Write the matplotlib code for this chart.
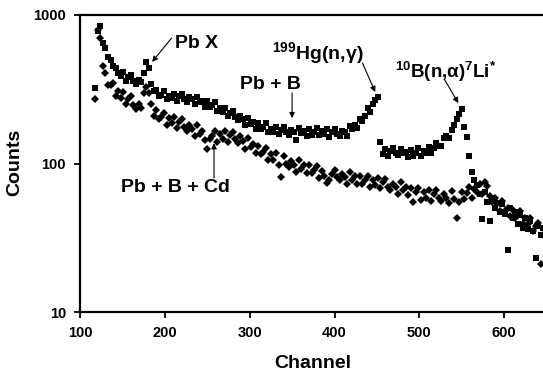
import numpy as np
import matplotlib
matplotlib.use("Agg")
import matplotlib.pyplot as plt

plt.rcParams['font.family'] = ['Liberation Sans', 'DejaVu Sans']
plt.rcParams['font.weight'] = 'bold'
plt.rcParams['mathtext.fontset'] = 'custom'
plt.rcParams['mathtext.rm'] = 'Liberation Sans:bold'
plt.rcParams['mathtext.bf'] = 'Liberation Sans:bold'
plt.rcParams['mathtext.it'] = 'Liberation Sans:bold'

# Channels (every 3rd channel, 118..649)
channels = np.arange(118, 650, 3)

# Pb + B (squares)
pb_b = [
    320, 780, 840, 650, 600, 520, 495, 450, 440, 405,
    388, 412, 362, 382, 392, 358, 342, 366, 352, 410,
    480, 440, 345, 310, 312, 283, 290, 308, 272, 287,
    275, 296, 264, 283, 296, 271, 261, 281, 271, 250,
    282, 258, 265, 242, 264, 240, 246, 259, 226, 236,
    223, 237, 209, 220, 227, 206, 196, 208, 198, 181,
    204, 185, 190, 172, 187, 171, 176, 186, 163, 172,
    164, 176, 157, 168, 175, 162, 156, 169, 164, 144,
    173, 160, 166, 153, 170, 156, 163, 174, 155, 165,
    157, 170, 151, 163, 170, 157, 152, 166, 163, 154,
    178, 170, 182, 174, 200, 192, 210, 238, 223, 251,
    268, 282, 140, 116, 126, 113, 121, 127, 118, 114,
    126, 117, 120, 111, 123, 113, 118, 127, 113, 121,
    117, 129, 118, 128, 138, 131, 132, 149, 152, 149,
    168, 182, 198, 216, 232, 175, 150, 112, 88, 78,
    72, 62, 42, 64, 55, 41, 59, 50, 54, 47,
    53, 46, 26, 50, 43, 47, 39, 45, 37, 43,
    36, 41, 35, 23, 38, 33, 37, 32,
]

# Pb + B + Cd (diamonds)
pb_b_cd = [
    270, 790, 700, 450, 410, 338, 340, 351, 284, 306,
    277, 304, 252, 273, 284, 248, 232, 253, 236, 300,
    330, 300, 250, 210, 229, 199, 207, 219, 182, 202,
    186, 207, 173, 189, 199, 176, 166, 182, 170, 152,
    181, 158, 165, 145, 125, 146, 154, 166, 140, 157,
    146, 165, 140, 155, 164, 146, 138, 152, 142, 126,
    149, 130, 135, 118, 131, 115, 120, 127, 106, 116,
    106, 118, 98, 81, 112, 99, 94, 104, 98, 87,
    105, 92, 97, 86, 97, 86, 90, 96, 80, 89,
    82, 74, 77, 85, 91, 81, 77, 85, 81, 73,
    88, 78, 82, 73, 83, 73, 78, 83, 70, 78,
    72, 80, 68, 75, 79, 70, 66, 73, 69, 62,
    75, 66, 69, 61, 68, 55, 64, 68, 57, 64,
    59, 66, 56, 62, 66, 59, 56, 62, 59, 54,
    65, 58, 43, 55, 64, 58, 63, 69, 59, 67,
    64, 73, 62, 75, 71, 60, 55, 59, 54, 48,
    56, 48, 50, 44, 49, 43, 45, 48, 39, 43,
    39, 43, 35, 38, 40, 21, 33, 34,
]

assert len(pb_b) == len(channels) == len(pb_b_cd)

x_ticks = [100, 200, 300, 400, 500, 600]
y_ticks = [10, 100, 1000]

W, H = 543, 375
fig = plt.figure(figsize=(W / 100, H / 100), dpi=100)
ax = fig.add_axes([80 / W, (H - 312) / H, 509 / W, 297 / H])

ax.plot(channels, pb_b_cd, linestyle='none', marker='D', ms=3.9,
        color='black', mec='black', mew=0)
ax.plot(channels, pb_b, linestyle='none', marker='s', ms=4.3,
        color='black', mec='black', mew=0)

ax.set_yscale('log')
ax.set_xlim(100, 700)
ax.set_ylim(10, 1000)
ax.set_xticks(x_ticks)
ax.set_yticks(y_ticks)
ax.set_yticklabels([str(v) for v in y_ticks])
ax.yaxis.set_minor_locator(matplotlib.ticker.NullLocator())
ax.tick_params(axis='both', which='major', direction='out', length=4,
               width=1.3, labelsize=10.5, pad=6)
for lab in ax.get_xticklabels() + ax.get_yticklabels():
    lab.set_fontweight('bold')
for s in ax.spines.values():
    s.set_linewidth(1.6)

fig.text(15 / W, 1 - 162 / H, 'Counts', rotation=90, ha='center', va='center',
         fontsize=14, fontweight='bold')
fig.text(313 / W, 1 - 363 / H, 'Channel', ha='center', va='center',
         fontsize=14, fontweight='bold')

tkw = dict(fontsize=14, fontweight='bold', color='black')
akw = dict(arrowstyle='-|>', lw=0.8, color='black', mutation_scale=8,
           shrinkA=0, shrinkB=0)

ax.text(212, 647, 'Pb X', ha='left', va='center', **tkw)
ax.annotate('', xy=(185, 483), xytext=(208, 700), arrowprops=akw)

ax.text(325, 338, 'Pb + B', ha='center', va='center', **tkw)
ax.annotate('', xy=(350, 202), xytext=(350, 299), arrowprops=akw)

ax.text(326, 555, r'$^{\mathbf{199}}$Hg(n,γ)', ha='left', va='center', **tkw)
ax.annotate('', xy=(448, 303), xytext=(433, 475), arrowprops=akw)

ax.text(471, 413, r'$^{\mathbf{10}}$B(n,α)$^{\mathbf{7}}$Li$^{\mathbf{*}}$',
        ha='left', va='center', fontsize=13.5, fontweight='bold', color='black')
ax.annotate('', xy=(546, 255), xytext=(530, 365), arrowprops=akw)

ax.text(213, 68.4, 'Pb + B + Cd', ha='center', va='center', **tkw)
ax.annotate('', xy=(258, 137), xytext=(258, 79.8), arrowprops=akw)

fig.savefig('out.png', dpi=100)
